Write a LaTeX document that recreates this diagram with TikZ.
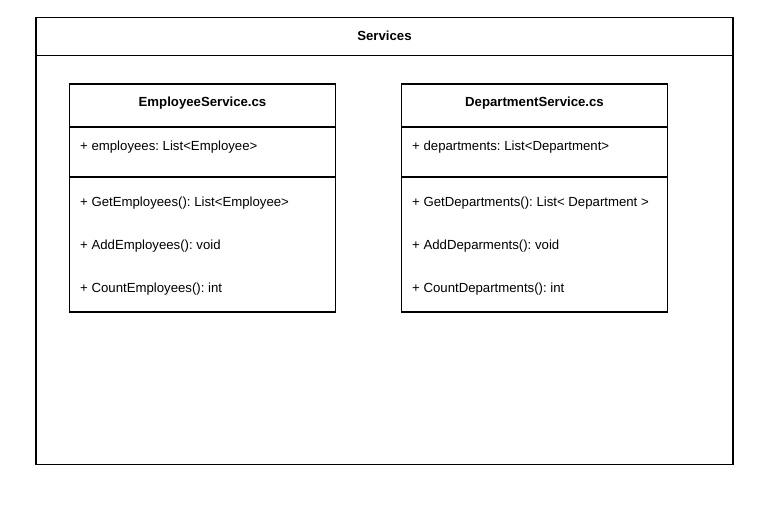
\documentclass[tikz,border=0pt]{standalone}
\usepackage{fontspec}
\setmainfont{Liberation Sans}
\frenchspacing
\begin{document}
\begin{tikzpicture}[x=1pt,y=-1pt,
  box/.style={draw=black,line width=1.5pt,inner sep=0pt,outer sep=0pt,anchor=north west},
  sep/.style={draw=black,line width=1.5pt},
  title/.style={font=\fontsize{13.2}{15}\selectfont\bfseries,inner sep=0pt,anchor=base},
  member/.style={font=\fontsize{13.2}{15}\selectfont,inner sep=0pt,anchor=base west}]
\useasboundingbox (0,0) rectangle (783,510);
% outer package
\node[box,minimum width=697pt,minimum height=447pt] (pkg) at (36,17.5) {};
\coordinate (pkgL) at (36,55.5);
\coordinate (pkgR) at (733,55.5);
\draw[sep] (pkgL) -- (pkgR);
\node[title] (pkgT) at (384.5,41) {Services};
% Employee class
\node[box,minimum width=266pt,minimum height=228pt] (emp) at (69.5,84) {};
\coordinate (empA1) at (69.5,127);
\coordinate (empA2) at (335.5,127);
\coordinate (empB1) at (69.5,177);
\coordinate (empB2) at (335.5,177);
\draw[sep] (empA1) -- (empA2);
\draw[sep] (empB1) -- (empB2);
\node[title] (empT) at (202.5,106.5) {EmployeeService.cs};
\node[member] (emp1) at (80,150.5) {+ employees: List<Employee>};
\node[member] (emp2) at (80,206.5) {+ GetEmployees(): List<Employee>};
\node[member] (emp3) at (80,249.5) {+ AddEmployees(): void};
\node[member] (emp4) at (80,292) {+ CountEmployees(): int};
% Department class
\node[box,minimum width=266pt,minimum height=228pt] (dep) at (401.5,84) {};
\coordinate (depA1) at (401.5,127);
\coordinate (depA2) at (667.5,127);
\coordinate (depB1) at (401.5,177);
\coordinate (depB2) at (667.5,177);
\draw[sep] (depA1) -- (depA2);
\draw[sep] (depB1) -- (depB2);
\node[title] (depT) at (534.5,106.5) {DepartmentService.cs};
\node[member] (dep1) at (412,150.5) {+ departments: List<Department>};
\node[member] (dep2) at (412,206.5) {+ GetDepartments(): List< Department >};
\node[member] (dep3) at (412,249.5) {+ AddDeparments(): void};
\node[member] (dep4) at (412,292) {+ CountDepartments(): int};
\end{tikzpicture}
\end{document}
